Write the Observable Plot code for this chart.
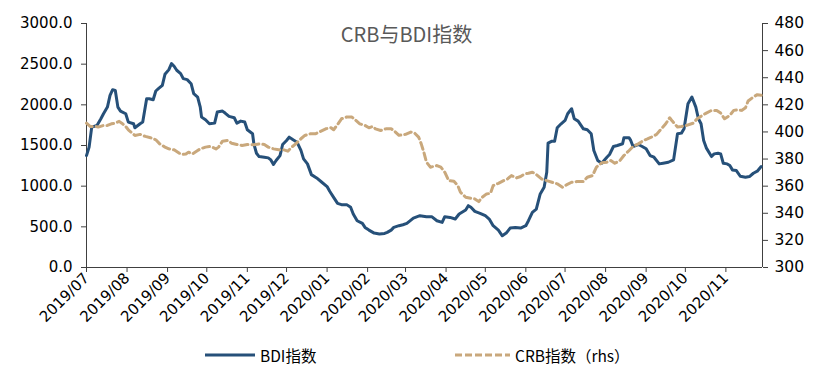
<!DOCTYPE html>
<html>
<head>
<meta charset="utf-8">
<script src="https://cdn.jsdelivr.net/npm/d3@7"></script>
<script src="https://cdn.jsdelivr.net/npm/@observablehq/plot@0.6"></script>
<style>
  html, body { margin: 0; padding: 0; background: #fff; }
  #wrap { position: relative; width: 817px; height: 366px; overflow: hidden; }
  #legend { position: absolute; left: 0; top: 343px; width: 817px; height: 24px;
            font-family: "Noto Sans CJK SC", sans-serif; font-size: 15.5px; color: #000; }
  .item { position: absolute; top: 0; display: flex; align-items: center; height: 24px; }
  .item svg { margin-right: 5px; }
</style>
</head>
<body>
<div id="wrap">
  <div id="chart"></div>
  <div id="legend">
    <div class="item" style="left:205px;"><svg width="50" height="6"><line x1="0" y1="3" x2="50" y2="3" stroke="#265079" stroke-width="3"/></svg><span>BDI指数</span></div>
    <div class="item" style="left:455px;"><svg width="55" height="6"><line x1="0" y1="3" x2="55" y2="3" stroke="#c9a87c" stroke-width="3" stroke-dasharray="7,3"/></svg><span>CRB指数（rhs）</span></div>
  </div>
</div>
<script>
// ---- Data ----
const title = "CRB与BDI指数";
const leftTicks = [0, 500, 1000, 1500, 2000, 2500, 3000];
const rightTicks = [300, 320, 340, 360, 380, 400, 420, 440, 460, 480];
const monthTicks = ["2019-07-01","2019-08-01","2019-09-01","2019-10-01","2019-11-01","2019-12-01",
  "2020-01-01","2020-02-01","2020-03-01","2020-04-01","2020-05-01","2020-06-01","2020-07-01",
  "2020-08-01","2020-09-01","2020-10-01","2020-11-01"];
const xStart = "2019-07-01";
const xEnd = "2020-11-29";

const bdiDates = [
"2019-07-01","2019-07-03","2019-07-05","2019-07-09","2019-07-12","2019-07-14","2019-07-17","2019-07-19","2019-07-21","2019-07-23",
"2019-07-25","2019-07-27","2019-07-31","2019-08-02","2019-08-06","2019-08-07","2019-08-11","2019-08-13","2019-08-16","2019-08-18",
"2019-08-21","2019-08-23","2019-08-25","2019-08-28","2019-08-30","2019-09-02","2019-09-04","2019-09-06","2019-09-08","2019-09-11",
"2019-09-13","2019-09-16","2019-09-19","2019-09-21","2019-09-24","2019-09-26","2019-09-27","2019-09-30","2019-10-03","2019-10-07",
"2019-10-09","2019-10-13","2019-10-15","2019-10-18","2019-10-22","2019-10-24","2019-10-27","2019-10-30","2019-11-01","2019-11-05",
"2019-11-06","2019-11-08","2019-11-10","2019-11-14","2019-11-17","2019-11-19","2019-11-21","2019-11-23","2019-11-26","2019-11-28",
"2019-12-01","2019-12-03","2019-12-06","2019-12-09","2019-12-12","2019-12-14","2019-12-17","2019-12-20","2019-12-24","2019-12-28",
"2020-01-01","2020-01-03","2020-01-06","2020-01-09","2020-01-12","2020-01-16","2020-01-19","2020-01-21","2020-01-24","2020-01-28",
"2020-01-30","2020-02-02","2020-02-06","2020-02-10","2020-02-14","2020-02-16","2020-02-19","2020-02-21","2020-02-25","2020-02-28",
"2020-03-02","2020-03-07","2020-03-12","2020-03-17","2020-03-21","2020-03-25","2020-03-29","2020-03-31","2020-04-04","2020-04-08",
"2020-04-11","2020-04-16","2020-04-18","2020-04-20","2020-04-23","2020-04-27","2020-05-01","2020-05-04","2020-05-07","2020-05-11",
"2020-05-14","2020-05-17","2020-05-20","2020-05-24","2020-05-28","2020-06-01","2020-06-03","2020-06-06","2020-06-09","2020-06-12",
"2020-06-15","2020-06-17","2020-06-18","2020-06-21","2020-06-23","2020-06-25","2020-06-28","2020-07-01","2020-07-03","2020-07-06",
"2020-07-08","2020-07-11","2020-07-15","2020-07-18","2020-07-21","2020-07-23","2020-07-26","2020-07-29","2020-08-02","2020-08-04",
"2020-08-07","2020-08-10","2020-08-14","2020-08-15","2020-08-19","2020-08-20","2020-08-22","2020-08-26","2020-08-29","2020-09-01",
"2020-09-04","2020-09-07","2020-09-11","2020-09-14","2020-09-18","2020-09-22","2020-09-25","2020-09-28","2020-09-30","2020-10-03",
"2020-10-06","2020-10-09","2020-10-11","2020-10-13","2020-10-15","2020-10-17","2020-10-21","2020-10-23","2020-10-26","2020-10-28",
"2020-10-30","2020-11-02","2020-11-04","2020-11-06","2020-11-09","2020-11-12","2020-11-16","2020-11-19","2020-11-22","2020-11-25",
"2020-11-28"];
const bdiValues = [
1376,1480,1726,1746,1829,1890,1972,2116,2186,2178,
1972,1923,1890,1788,1767,1718,1767,1788,2075,2075,
2063,2170,2199,2240,2375,2433,2507,2474,2425,2384,
2322,2310,2260,2137,2096,1972,1849,1816,1767,1775,
1911,1923,1899,1858,1841,1775,1800,1788,1693,1644,
1521,1405,1364,1356,1348,1323,1266,1315,1376,1512,
1562,1603,1570,1541,1440,1336,1274,1142,1101,1048,
995,937,863,789,773,773,740,658,575,542,
493,460,423,411,419,432,460,493,514,526,
542,608,637,625,625,575,555,625,616,596,
658,707,760,740,690,666,637,596,514,460,
390,423,485,493,485,514,575,678,719,904,
986,1171,1529,1553,1553,1718,1767,1808,1890,1952,
1829,1800,1705,1693,1644,1438,1315,1282,1356,1389,
1488,1500,1521,1594,1594,1570,1488,1512,1488,1459,
1377,1356,1274,1282,1294,1323,1644,1652,1705,2014,
2096,1972,1829,1767,1562,1471,1364,1397,1405,1397,
1282,1274,1253,1200,1192,1122,1110,1118,1159,1184,
1241];

const crbDates = [
"2019-07-01","2019-07-04","2019-07-08","2019-07-10","2019-07-14","2019-07-17","2019-07-20","2019-07-23","2019-07-26","2019-07-28",
"2019-07-31","2019-08-02","2019-08-05","2019-08-07","2019-08-11","2019-08-15","2019-08-19","2019-08-23","2019-08-26","2019-08-30",
"2019-09-02","2019-09-06","2019-09-10","2019-09-12","2019-09-15","2019-09-17","2019-09-20","2019-09-24","2019-09-26","2019-09-30",
"2019-10-04","2019-10-08","2019-10-10","2019-10-13","2019-10-17","2019-10-20","2019-10-24","2019-10-28","2019-11-01","2019-11-06",
"2019-11-10","2019-11-14","2019-11-17","2019-11-21","2019-11-25","2019-11-29","2019-12-02","2019-12-05","2019-12-08","2019-12-12",
"2019-12-15","2019-12-19","2019-12-23","2019-12-27","2019-12-31","2020-01-04","2020-01-06","2020-01-09","2020-01-12","2020-01-16",
"2020-01-20","2020-01-23","2020-01-26","2020-01-30","2020-02-02","2020-02-05","2020-02-07","2020-02-11","2020-02-15","2020-02-19",
"2020-02-21","2020-02-25","2020-03-01","2020-03-05","2020-03-08","2020-03-11","2020-03-13","2020-03-15","2020-03-17","2020-03-20",
"2020-03-25","2020-03-28","2020-03-31","2020-04-03","2020-04-07","2020-04-10","2020-04-12","2020-04-16","2020-04-20","2020-04-23",
"2020-04-26","2020-04-28","2020-05-02","2020-05-05","2020-05-07","2020-05-11","2020-05-15","2020-05-18","2020-05-21","2020-05-25",
"2020-05-28","2020-05-31","2020-06-03","2020-06-06","2020-06-09","2020-06-13","2020-06-17","2020-06-21","2020-06-25","2020-06-29",
"2020-07-02","2020-07-06","2020-07-10","2020-07-15","2020-07-18","2020-07-22","2020-07-25","2020-07-29","2020-08-02","2020-08-05",
"2020-08-08","2020-08-12","2020-08-15","2020-08-19","2020-08-22","2020-08-26","2020-08-30","2020-09-02","2020-09-05","2020-09-09",
"2020-09-12","2020-09-16","2020-09-19","2020-09-21","2020-09-25","2020-09-28","2020-10-02","2020-10-07","2020-10-10","2020-10-14",
"2020-10-17","2020-10-21","2020-10-25","2020-10-28","2020-10-31","2020-11-04","2020-11-07","2020-11-10","2020-11-13","2020-11-16",
"2020-11-18","2020-11-22","2020-11-25","2020-11-28"];
const crbValues = [
406.5,404,404,403.6,404.8,404.8,406,406.5,407.8,406.5,
404,401.6,399.1,397.4,398.2,396.7,395.7,394.2,391.2,388.8,
387.5,386.8,384.3,383.4,383.8,385.1,383.8,386.3,387.5,388.8,
389.3,387.5,388.8,393.2,393.7,391.7,390.7,390,390.7,390.5,
391.2,390.7,388.8,387.5,386.8,386.8,385.8,388.8,391.2,395,
397.4,398.6,398.6,400.4,402.3,403.1,401.6,405.5,409.7,411,
411,408.5,406,404.8,403.1,404,402.3,401.1,402.3,402.3,
401.1,397.5,398.2,399.9,399.1,396.2,391.2,385.1,377.7,374,
375.2,374,370.3,364.1,363.6,360.4,355.5,351.8,351,350.6,
348.6,351.3,354.3,354.7,360.4,362.1,364.1,365.3,367.8,366.1,
367.1,369,369.5,370.3,368.6,365.3,364.1,362.9,361.7,359.2,
360.9,362.9,363.4,363.4,366.6,367.8,374,377.2,377.7,378.9,
376.9,378.9,382.6,386.3,389.3,391.2,393.7,394.9,396.2,398.2,
401.6,406,410.5,408,403.6,404,404.8,406.5,409.7,412.2,
413.9,415.9,415.9,413.9,409.7,412.2,415.9,416.4,415.9,417.9,
422.8,425.8,427.5,427];

// ---- Build ----
const bdi = bdiDates.map((d, i) => ({date: new Date(d), value: bdiValues[i]}));
const crb = crbDates.map((d, i) => ({date: new Date(d), value: crbValues[i]}));

const lDom = [leftTicks[0], leftTicks[leftTicks.length - 1]];
const rDom = [rightTicks[0], rightTicks[rightTicks.length - 1]];
const toLeft = v => lDom[0] + (v - rDom[0]) / (rDom[1] - rDom[0]) * (lDom[1] - lDom[0]);
const toRight = v => rDom[0] + (v - lDom[0]) / (lDom[1] - lDom[0]) * (rDom[1] - rDom[0]);

const axisColor = "#404040";
const chart = Plot.plot({
  width: 817,
  height: 336,
  marginLeft: 86,
  marginRight: 55,
  marginTop: 23,
  marginBottom: 69,
  x: {type: "utc", domain: [new Date(xStart), new Date(xEnd)]},
  y: {domain: lDom},
  style: {fontFamily: "DejaVu Sans, sans-serif", fontSize: "15px", color: "#000", background: "#fff"},
  marks: [
    Plot.axisY(leftTicks, {anchor: "left", tickSize: 5, tickPadding: 9, stroke: axisColor,
      tickFormat: d3.format(".1f"), label: null, fontSize: 15}),
    Plot.axisY(rightTicks.map(toLeft), {anchor: "right", tickSize: 5, tickPadding: 7, stroke: axisColor,
      tickFormat: d => String(Math.round(toRight(d))), label: null, fontSize: 15.5}),
    Plot.axisX(monthTicks.map(d => new Date(d)), {anchor: "bottom", tickSize: 5, tickPadding: 3, stroke: axisColor,
      tickRotate: -45, tickFormat: d3.utcFormat("%Y/%m"), label: null, fontSize: 15}),
    Plot.ruleX([new Date(xStart), new Date(xEnd)], {stroke: axisColor}),
    Plot.ruleY([lDom[0]], {stroke: axisColor}),
    Plot.line(bdi, {x: "date", y: "value", stroke: "#265079", strokeWidth: 3, curve: "linear"}),
    Plot.line(crb, {x: "date", y: d => toLeft(d.value), stroke: "#c9a87c", strokeWidth: 3, strokeDasharray: "7,4"}),
    Plot.text([title], {frameAnchor: "top", lineAnchor: "middle", dy: 12, dx: -18, fill: "#595959",
      fontSize: 20, fontFamily: "Noto Sans CJK SC, sans-serif"})
  ]
});
document.getElementById("chart").appendChild(chart);
</script>
</body>
</html>
